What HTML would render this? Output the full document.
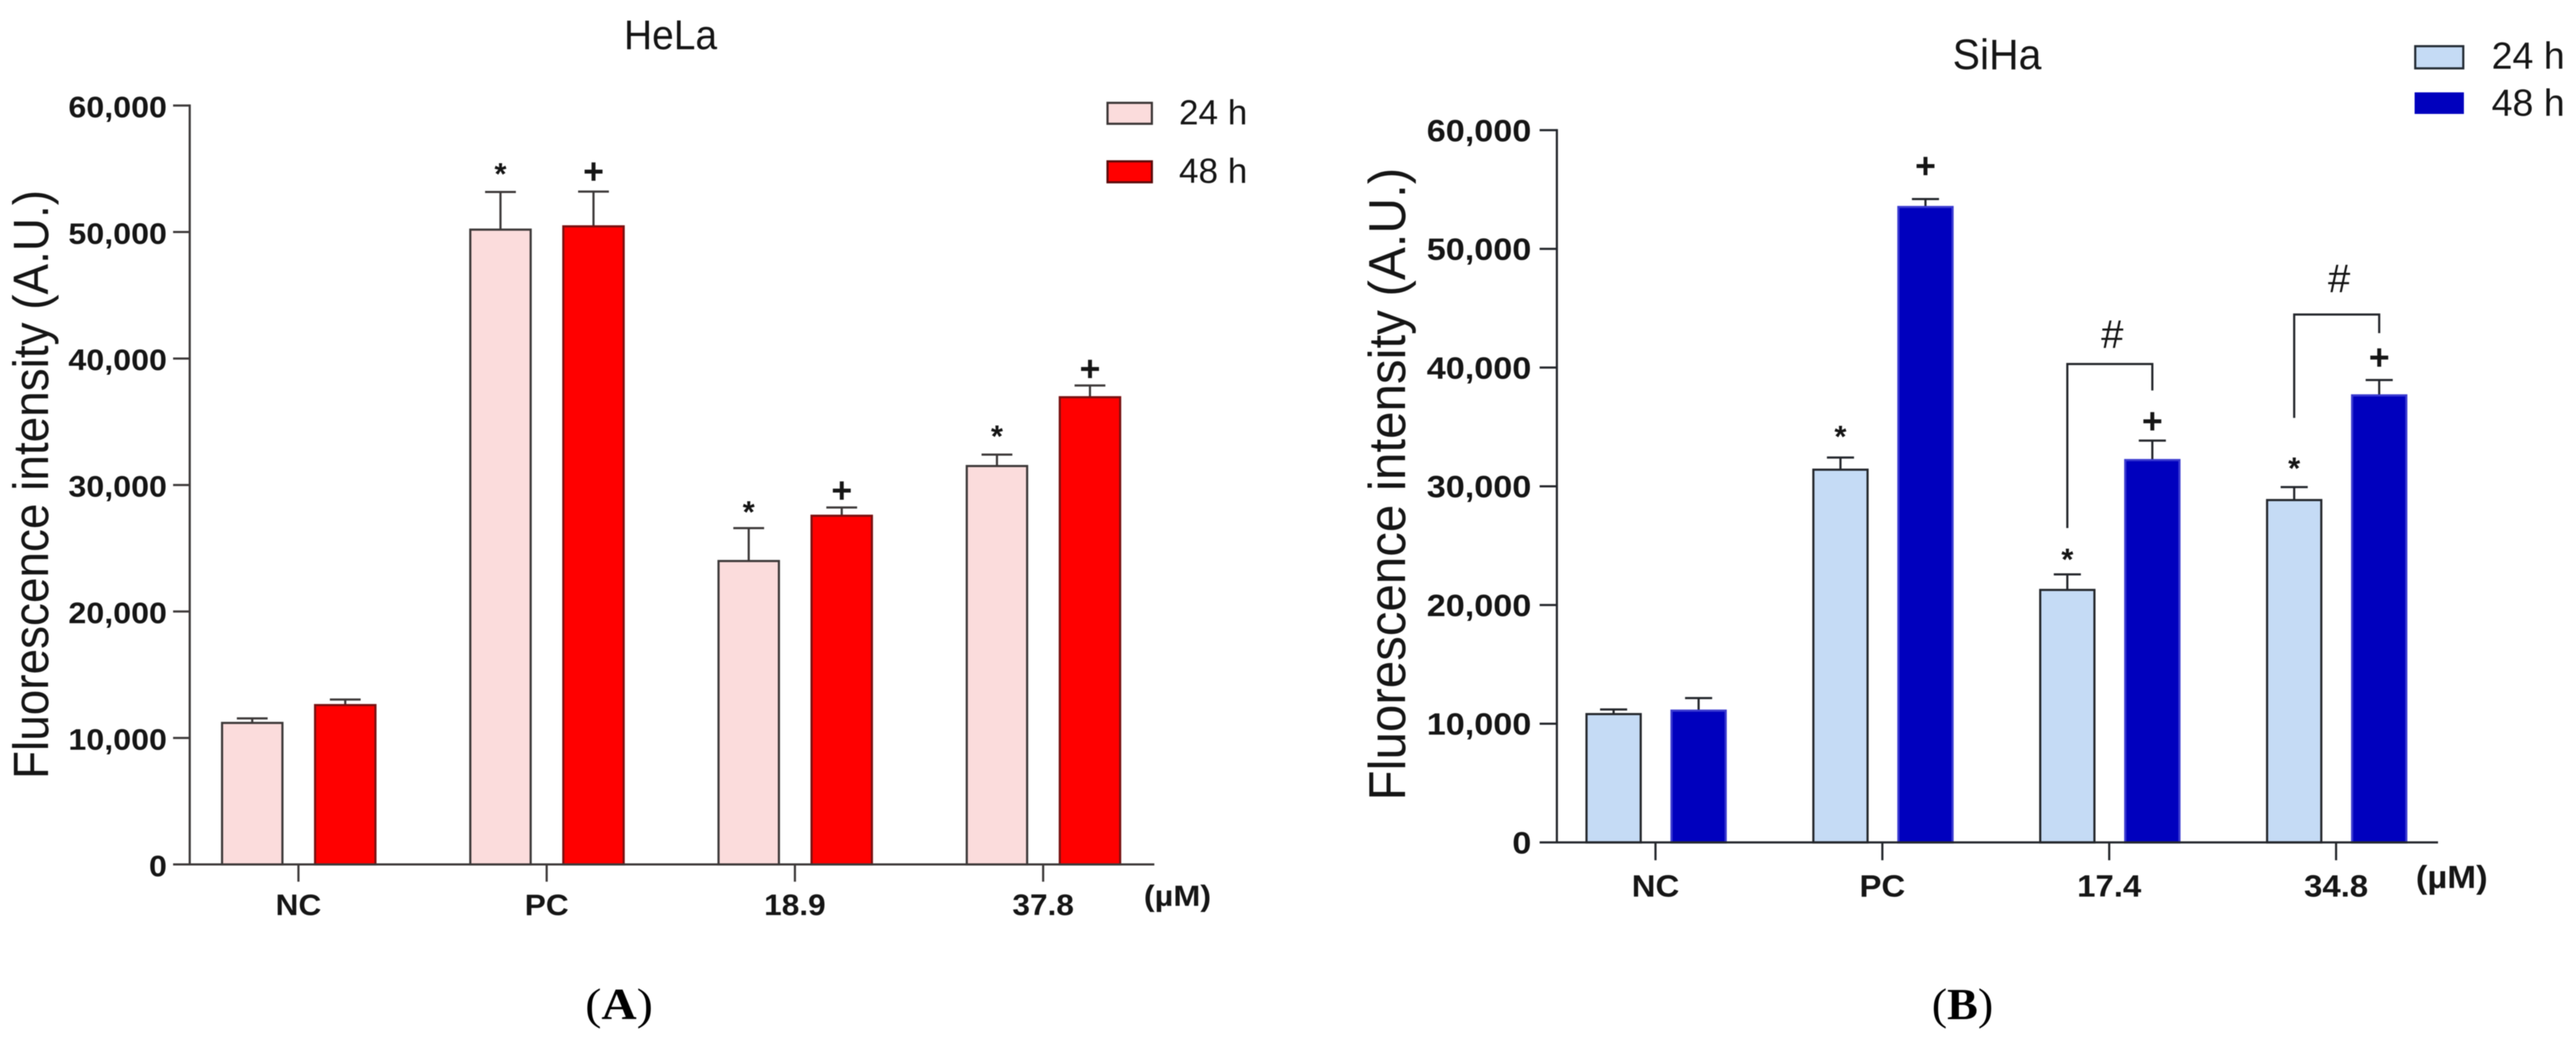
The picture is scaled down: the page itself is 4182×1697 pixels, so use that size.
<!DOCTYPE html>
<html lang="en">
<head>
<meta charset="utf-8">
<title>Fluorescence intensity in HeLa and SiHa cells</title>
<style>
html,body{margin:0;padding:0;background:#fff;width:4182px;height:1697px;overflow:hidden}
svg{display:block;filter:blur(0.7px)}
text{font-family:"Liberation Sans",Arial,sans-serif;fill:#151515}
.serif{font-family:"Liberation Serif","Times New Roman",serif;fill:#000}
</style>
</head>
<body>
<svg id="figure" xmlns="http://www.w3.org/2000/svg" width="4182" height="1697" viewBox="0 0 4182 1697">
  <rect x="0" y="0" width="4182" height="1697" fill="#fff"/>

  <g id="panelA">
    <text transform="translate(1013,80) scale(0.93,1)" font-size="68">HeLa</text>
    <text transform="translate(78,1265) rotate(-90) scale(0.92,1)" font-size="81">Fluorescence intensity (A.U.)</text>
    <text transform="translate(1857,1471) scale(1.12,1)" font-size="47" font-weight="700">(µM)</text>
    <rect x="1798" y="167" width="72" height="34" fill="#fbdcdc" stroke="#3a3535" stroke-width="3.5"/>
    <text x="1914" y="202" font-size="57">24 h</text>
    <rect x="1798" y="262" width="72" height="34" fill="#ff0000" stroke="#5a0a0a" stroke-width="3.5"/>
    <text x="1914" y="297" font-size="57">48 h</text>
    <text class="serif" transform="translate(1005,1655) scale(1.1,1)" font-size="72" text-anchor="middle">(<tspan font-weight="700">A</tspan>)</text>
  </g>

  <g id="panelB">
    <text transform="translate(3170,112.7) scale(0.95,1)" font-size="70">SiHa</text>
    <text transform="translate(2281,1300) rotate(-90) scale(0.953,1)" font-size="84">Fluorescence intensity (A.U.)</text>
    <text transform="translate(3922,1442) scale(1.08,1)" font-size="52" font-weight="700">(µM)</text>
    <rect x="3921" y="75" width="78" height="36" fill="#c5dbf5" stroke="#222a33" stroke-width="3.5"/>
    <text x="4045" y="111.6" font-size="61">24 h</text>
    <rect x="3920" y="150" width="80" height="35" fill="#0000be"/>
    <text x="4045" y="188" font-size="61">48 h</text>
    <text class="serif" transform="translate(3186,1655) scale(1.04,1)" font-size="72" text-anchor="middle">(<tspan font-weight="700">B</tspan>)</text>
  </g>
</svg>

<script>
/* Shared y-axis ticks */
const yTickValues = [0, 10000, 20000, 30000, 40000, 50000, 60000];
const yTickLabels = ['0', '10,000', '20,000', '30,000', '40,000', '50,000', '60,000'];

/* Panel A: HeLa */
const helaCategories = ['NC', 'PC', '18.9', '37.8'];
const hela24Values = [11190, 50190, 23990, 31500];
const hela24Errors = [360, 2980, 2600, 900];
const hela48Values = [12600, 50450, 27570, 36940];
const hela48Errors = [440, 2750, 650, 930];
const hela24Marks = [null, '*', '*', '*'];
const hela48Marks = [null, '+', '+', '+'];
const hela24MarkLevels = [null, 54835, 28106, 34094];
const hela48MarkLevels = [null, 54712, 29493, 39109];

/* Panel B: SiHa */
const sihaCategories = ['NC', 'PC', '17.4', '34.8'];
const siha24Values = [10810, 31400, 21270, 28840];
const siha24Errors = [390, 1020, 1310, 1090];
const siha48Values = [11100, 53530, 32210, 37660];
const siha48Errors = [1060, 670, 1640, 1290];
const siha24Marks = [null, '*', '*', '*'];
const siha48Marks = [null, '+', '+', '+'];
const siha24MarkLevels = [null, 34440, 24092, 31763];
const siha48MarkLevels = [null, 56900, 35394, 40768];
const sihaBracketCategories = [2, 3];
const sihaBracketTops = [40300, 44470];
const sihaBracketLeftEnds = [26480, 35760];
const sihaBracketRightEnds = [38070, 42900];
const sihaBracketLabelLevels = [42840, 47540];

const NS = 'http://www.w3.org/2000/svg';

function make(parent, tag, attrs) {
  const el = document.createElementNS(NS, tag);
  for (const key in attrs) el.setAttribute(key, attrs[key]);
  parent.appendChild(el);
  return el;
}

function drawPanel(parent, prefix, geo, data) {
  const y = v => geo.y0 - v / 60000 * geo.yLen;
  const x = i => geo.x0 + i * geo.step;
  const lineStyle = {stroke: geo.ink, 'stroke-width': geo.lw, fill: 'none'};

  const bars = make(parent, 'g', {});
  
  

  data.categories.forEach((cat, i) => {
    [0, 1].forEach(s => {
      const series = data.series[s];
      const cx = x(i) + geo.offsets[s];
      const top = y(series.values[i]);
      const capY = y(series.values[i] + series.errors[i]);
      const stem = make(bars, 'line', Object.assign({x1: cx, x2: cx, y1: top, y2: capY}, lineStyle));
      
      
      const cap = make(bars, 'line', Object.assign({x1: cx - geo.capW / 2, x2: cx + geo.capW / 2, y1: capY, y2: capY}, lineStyle));
      
      
      const bar = make(bars, 'rect', {
        x: cx - geo.barW / 2, y: top, width: geo.barW, height: geo.y0 - top,
        fill: series.fill, stroke: series.stroke, 'stroke-width': geo.lw
      });
      
      

      if (series.marks[i]) {
        const isStar = series.marks[i] === '*';
        const size = isStar ? 50 : 58;
        const shift = isStar ? 0.44 * size : 0.31 * size;
        const mark = make(parent, 'text', {
          x: cx, y: y(series.levels[i]) + shift, 'font-size': size,
          'font-weight': 700, 'text-anchor': 'middle'
        });
        mark.textContent = series.marks[i];
        
        
      }
    });

    const tick = make(parent, 'line', Object.assign({x1: x(i), x2: x(i), y1: geo.y0, y2: geo.y0 + geo.xTickLen}, lineStyle));
    
    
    const label = make(parent, 'text', {
      transform: 'translate(' + x(i) + ',' + geo.xLabelY + ') scale(' + geo.xSx + ',1)',
      'font-size': geo.labelSize, 'font-weight': 700, 'text-anchor': 'middle'
    });
    label.textContent = cat;
    
    
  });

  yTickValues.forEach((v, i) => {
    const tick = make(parent, 'line', Object.assign({x1: geo.axisX - geo.yTickLen, x2: geo.axisX, y1: y(v), y2: y(v)}, lineStyle));
    
    
    const label = make(parent, 'text', {
      transform: 'translate(' + geo.yLabelX + ',' + (y(v) + geo.yLabelDy) + ') scale(' + geo.ySx + ',1)',
      'font-size': geo.labelSize, 'font-weight': 700, 'text-anchor': 'end'
    });
    label.textContent = yTickLabels[i];
    
    
  });

  const yAxis = make(parent, 'line', Object.assign({x1: geo.axisX, x2: geo.axisX, y1: y(60000) - geo.lw / 2, y2: geo.y0}, lineStyle));
  
  
  const xAxis = make(parent, 'line', Object.assign({x1: geo.axisX, x2: geo.xEnd, y1: geo.y0, y2: geo.y0}, lineStyle));
  
  

  (data.brackets || []).forEach(b => {
    const xl = x(b.category) + geo.offsets[0];
    const xr = x(b.category) + geo.offsets[1];
    const path = make(parent, 'path', Object.assign({
      d: 'M' + xl + ' ' + y(b.leftEnd) + 'V' + y(b.top) + 'H' + xr + 'V' + y(b.rightEnd)
    }, lineStyle));
    
    
    const hash = make(parent, 'text', {
      x: x(b.category) + 5, y: y(b.labelLevel) + 23, 'font-size': 65, 'text-anchor': 'middle'
    });
    hash.textContent = '#';
    
    
  });
}

drawPanel(document.getElementById('panelA'), 'panel-a', {
  y0: 1403.8, yLen: 1232.4, x0: 484.5, step: 403, offsets: [-75, 76], barW: 98,
  capW: 50, lw: 3.5, ink: '#3c3838', axisX: 308, xEnd: 1874, yTickLen: 27, xTickLen: 28,
  yLabelX: 271, yLabelDy: 19, ySx: 1.09, labelSize: 48, xLabelY: 1486, xSx: 1.07
}, {
  categories: helaCategories,
  series: [
    {name: '24h', values: hela24Values, errors: hela24Errors, marks: hela24Marks, levels: hela24MarkLevels, fill: '#fbdcdc', stroke: '#3c3838'},
    {name: '48h', values: hela48Values, errors: hela48Errors, marks: hela48Marks, levels: hela48MarkLevels, fill: '#ff0000', stroke: '#7a1010'}
  ]
});

drawPanel(document.getElementById('panelB'), 'panel-b', {
  y0: 1368, yLen: 1156.6, x0: 2687.6, step: 368.3, offsets: [-68, 70], barW: 88,
  capW: 44, lw: 3.5, ink: '#23262b', axisX: 2527.5, xEnd: 3958, yTickLen: 28, xTickLen: 29,
  yLabelX: 2486, yLabelDy: 18, ySx: 1.11, labelSize: 50, xLabelY: 1456, xSx: 1.07
}, {
  categories: sihaCategories,
  series: [
    {name: '24h', values: siha24Values, errors: siha24Errors, marks: siha24Marks, levels: siha24MarkLevels, fill: '#c5dbf5', stroke: '#23262b'},
    {name: '48h', values: siha48Values, errors: siha48Errors, marks: siha48Marks, levels: siha48MarkLevels, fill: '#0000be', stroke: '#3a3ad0'}
  ],
  brackets: sihaBracketCategories.map((c, i) => ({
    category: c, top: sihaBracketTops[i], leftEnd: sihaBracketLeftEnds[i],
    rightEnd: sihaBracketRightEnds[i], labelLevel: sihaBracketLabelLevels[i]
  }))
});
</script>
</body>
</html>
